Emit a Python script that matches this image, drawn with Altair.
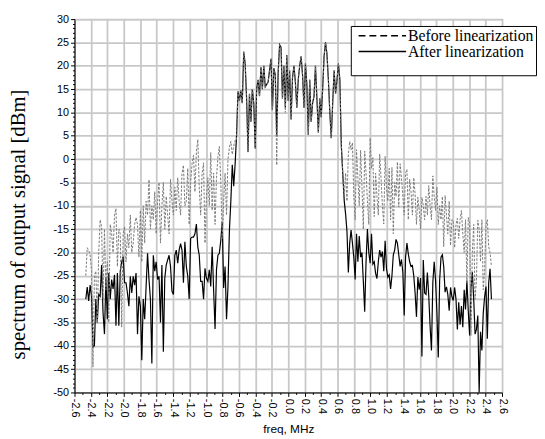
import altair as alt
import numpy as np
import pandas as pd

# ---- data (dBm) ----
# left sideband: freq from -2.46 to -0.65 MHz
after_left = [-30, -27.4, -30.4, -27, -29.4, -40.3, -40, -30, -35, -29,
              -29.4, -22.7, -32.9, -37.5, -25.5, -34.3, -24.4, -30, -25.8, -27.8,
              -24.8, -35.7, -24.4, -35.7, -24, -22, -20.9, -26.5, -26.5, -28.7,
              -31.5, -25.1, -28.7, -25.1, -27, -24.4, -37.5, -29.4, -31.5, -43.1,
              -30, -34.3, -27.3, -20.2, -25.8, -30, -43.8, -20.6, -24, -22,
              -25.8, -25.1, -35, -22.7, -41.3, -25.5, -22.7, -21.6, -20.6, -23,
              -28.3, -29, -20.6, -19.5, -22.3, -19.5, -18.1, -19.5, -26.5, -17.7,
              -23, -25.1, -30, -17, -16.7, -16.7, -16, -13.9, -18.8, -20.6,
              -26.2, -26.2, -30, -23.4, -25.5, -26.2, -23.7, -27.3, -18.8, -28,
              -36.4, -23.7, -20.6, -20.2, -17.4, -13.5, -27.6, -23, -34.3, -27.3,
              -15.3, -9, -1.2, -5.8, -1]
before_left = [-25, -19, -19.5, -20.5, -24, -44.5, -25, -24, -35, -20,
               -13, -14.5, -30, -15, -28, -22, -35, -14, -16, -20,
               -12, -10.6, -23, -15, -16, -36, -16, -14.5, -22, -16,
               -19, -12, -20, -18, -14, -12.5, -14, -21, -11, -22,
               -10, -18, -9, -12, -4.4, -15, -10, -13, -7, -16,
               -9, -5, -18, -10, -5, -15, -8, -12, -16, -4.3,
               -9, -12, -6, -11, -4, -9, -12, -3, -1.3, -10,
               -9, -2, -14, -5, -1, 0.8, -7, 1.5, 4.2, -6,
               -12, -3, -0.8, -18, -8, -4, -10, 1.4, -11, -3,
               -14, -4, 0.5, 2.7, -5, -17, -9, -3, -12, 0,
               2.5, 3.8, 1, 2.8, 4]
# main band: freq from -0.63 to 0.66 MHz
center_after = [5, 14.5, 12.5, 14.7, 12, 23, 20.5, 13, 1.5, 14,
                8, 15, 12, 2.3, 15, 17, 13.5, 19.7, 15, 20,
                15.5, 16, 16.5, 19, 21.5, 10.5, 19.5, 18, 5, 18.5,
                24.5, 24, 13, 20, 11, 22.3, 12.5, 19, 8.5, 17.5,
                20, 16.5, 11, 17, 20, 22, 18, 11, 20.5, 16,
                5.2, 17, 8, 12, 13.5, 20, 13, 5.7, 13, 9,
                15, 22, 25, 22.5, 17, 10, 4.5, 12, 19, 14,
                17, 20.5, 17, 3, -3]
center_before = [4, 14.5, 12.5, 14.7, 12, 23, 20.5, 13, 1.5, 14,
                 8, 15, 12, 2.3, 15, 17, 13.5, 19.7, 15, 20,
                 15.5, 16, 16.5, 19, 21.5, 10.5, 19.5, 18, -1.3, 18.5,
                 24.5, 24, 13, 20, 10, 22.3, 12.5, 19, 8.5, 17.5,
                 20, 16.5, 11, 17, 20, 22, 18, 11, 20.5, 16,
                 5.2, 17, 8, 12, 13.5, 20, 13, 5.7, 13, 9,
                 15, 22, 25, 22.5, 17, 10, 4.5, 12, 19, 14,
                 17, 20.5, 17, 3, -3]
# right sideband: freq from 0.68 to 2.47 MHz
after_right = [-9, -11.8, -15.5, -24.3, -18, -15.2, -18, -21, -25.8, -16,
               -22, -16.5, -21, -20, -26.2, -32.7, -22, -15, -20, -22.3,
               -16, -22.5, -22, -24.5, -25.6, -22, -19.5, -21, -19.8, -24,
               -17.5, -23.5, -25.3, -24.8, -27.8, -25, -20.5, -19.5, -17.2, -18,
               -20.5, -23, -21.5, -24.3, -33.5, -21, -18, -20.3, -22, -23,
               -22.8, -25, -28.7, -33.8, -25.3, -28, -25.5, -42.3, -21.6, -28.7,
               -29, -24.3, -29.3, -35.8, -41, -26.5, -22, -26, -33, -42.5,
               -26, -21, -20.5, -23, -28.5, -27.4, -29, -32.5, -27.5, -29.5,
               -30.3, -27.5, -30, -36.5, -30.7, -35.5, -31.5, -36, -28, -32.2,
               -26, -32.5, -37.8, -27.8, -24.2, -30, -37.5, -36.5, -33.5, -50,
               -37, -41, -33, -29.5, -27.3, -38.5, -26.5, -23.5, -30]
before_right = [-8, -3, -9, 1, 3.8, 2, 3.5, -8, -13, 2,
                -4, -10, 1.9, -6, -15, 1.7, -3, -9, -14, 4.5,
                -2, 0.3, -12.3, -3, -8, -12, 1.1, -4, -10, -13.9,
                0.6, -6, -9, -2, -13, -1.8, -16, -5, -8, -0.6,
                -10.3, -1, -4, -8, -12, -3, -2.2, -13, -4.3, -7,
                -12, -4, -7.5, -14, -8.2, -11, -15, -8.2, -10, -13,
                -8, -12, -5.7, -10, -13, -3.6, -8, -11, -6, -14,
                -10, -13, -8, -18.8, -7.8, -12, -16, -9, -18.5, -13,
                -13.1, -19, -14, -12.7, -17, -13, -11, -16, -20, -13,
                -26.5, -12.5, -13.8, -37.8, -20, -14, -30, -26, -13.1, -15,
                -22, -13, -28, -23.7, -14, -13, -18.8, -20, -23]

segments = [(-2.4625, -0.646), (-0.629, 0.6625), (0.681, 2.471)]
series_names = ["Before linearization", "After linearization"]

x_ticks = [round(-2.6 + 0.1 * i, 1) for i in range(53)]
y_ticks = list(range(-50, 31))


def build(parts, name):
    rows = []
    for (lo, hi), vals in zip(segments, parts):
        for f, v in zip(np.linspace(lo, hi, len(vals)), vals):
            rows.append({"freq": float(f), "level": v, "series": name})
    return rows


before_df = pd.DataFrame(build([before_left, center_before, before_right], series_names[0]))
after_df = pd.DataFrame(build([after_left, center_after, after_right], series_names[1]))
for d in (before_df, after_df):
    d["order"] = range(len(d))

test_x = "abs(round(datum.value * 10)) % 2 == 0"
test_y = "datum.value % 5 == 0"

x_enc = alt.X(
    "freq:Q",
    scale=alt.Scale(domain=[-2.6, 2.6], nice=False, zero=False),
    axis=alt.Axis(
        values=x_ticks,
        title="freq, MHz",
        titleFont="Liberation Sans", titleFontSize=12, titleFontWeight="normal",
        titleColor="black", titleX=217, titleY=41, titleBaseline="alphabetic",
        labelExpr=f"{test_x} ? replace(format(datum.value, '.1f'), '\u2212', '-') : ''",
        labelAngle=90, labelFont="Liberation Sans", labelFontSize=11, labelColor="black",
        labelOverlap=False, labelFlush=False, labelBound=False, labelPadding=2,
        tickColor="black", domainColor="black",
        tickSize={"condition": {"test": test_x, "value": 4}, "value": 2},
        grid=True, gridColor="#c8c8c8", gridWidth=1.8,
        gridOpacity={"condition": {"test": test_x, "value": 1}, "value": 0},
    ),
)
y_enc = alt.Y(
    "level:Q",
    scale=alt.Scale(domain=[-50, 30], nice=False, zero=False),
    axis=alt.Axis(
        values=y_ticks,
        title="spectrum of output signal [dBm]",
        titleFont="Liberation Serif", titleFontSize=21, titleFontWeight="normal",
        titleColor="black", titleAngle=270, titleX=-51, titleY=208,
        titleBaseline="alphabetic", titleAlign="center",
        labelExpr=f"{test_y} ? replace(format(datum.value, 'd'), '\u2212', '-') : ''",
        labelFont="Liberation Sans", labelFontSize=11, labelColor="black",
        labelOverlap=False, labelFlush=False, labelBound=False, labelPadding=2,
        tickColor="black", domainColor="black",
        tickSize={"condition": {"test": test_y, "value": 4}, "value": 2},
        grid=True, gridColor="#c8c8c8", gridWidth=1.8,
        gridOpacity={"condition": {"test": test_y, "value": 1}, "value": 0},
    ),
)

after_line = alt.Chart(after_df).mark_line(color="black", strokeWidth=1.2).encode(
    x=x_enc, y=y_enc, order="order:Q"
)
before_line = alt.Chart(before_df).mark_line(
    color="#7a7a7a", strokeWidth=1, strokeDash=[2.5, 1.5]
).encode(x=x_enc, y=y_enc, order="order:Q")

legend_layer = alt.Chart(pd.concat([before_df.head(2), after_df.head(2)])).transform_filter(
    "false"
).mark_line(color="black").encode(
    x=x_enc,
    y=y_enc,
    strokeDash=alt.StrokeDash(
        "series:N",
        scale=alt.Scale(domain=series_names, range=[[7, 4], [1, 0]]),
        legend=alt.Legend(
            title=" ", titleOrient="bottom", titleFontSize=11, titlePadding=3,
            orient="none", legendX=280.5, legendY=7,
            padding=2, fillColor="white", strokeColor="black",
            symbolType="M-5,0H5", symbolSize=93, symbolStrokeColor="black",
            symbolStrokeWidth=1.5, symbolOffset=22, labelOffset=18,
            labelFont="Liberation Serif", labelFontSize=16, labelColor="black",
            rowPadding=0,
        ),
    ),
)

chart = (
    alt.layer(after_line, before_line, legend_layer)
    .properties(
        width=434, height=379,
        autosize=alt.AutoSizeParams(type="none"),
        padding={"left": 67.5, "top": 8, "right": 35.5, "bottom": 44},
    )
    .configure_view(stroke="black", strokeWidth=1)
)

chart.save("out.html", embed_options={"renderer": "svg", "actions": False})
